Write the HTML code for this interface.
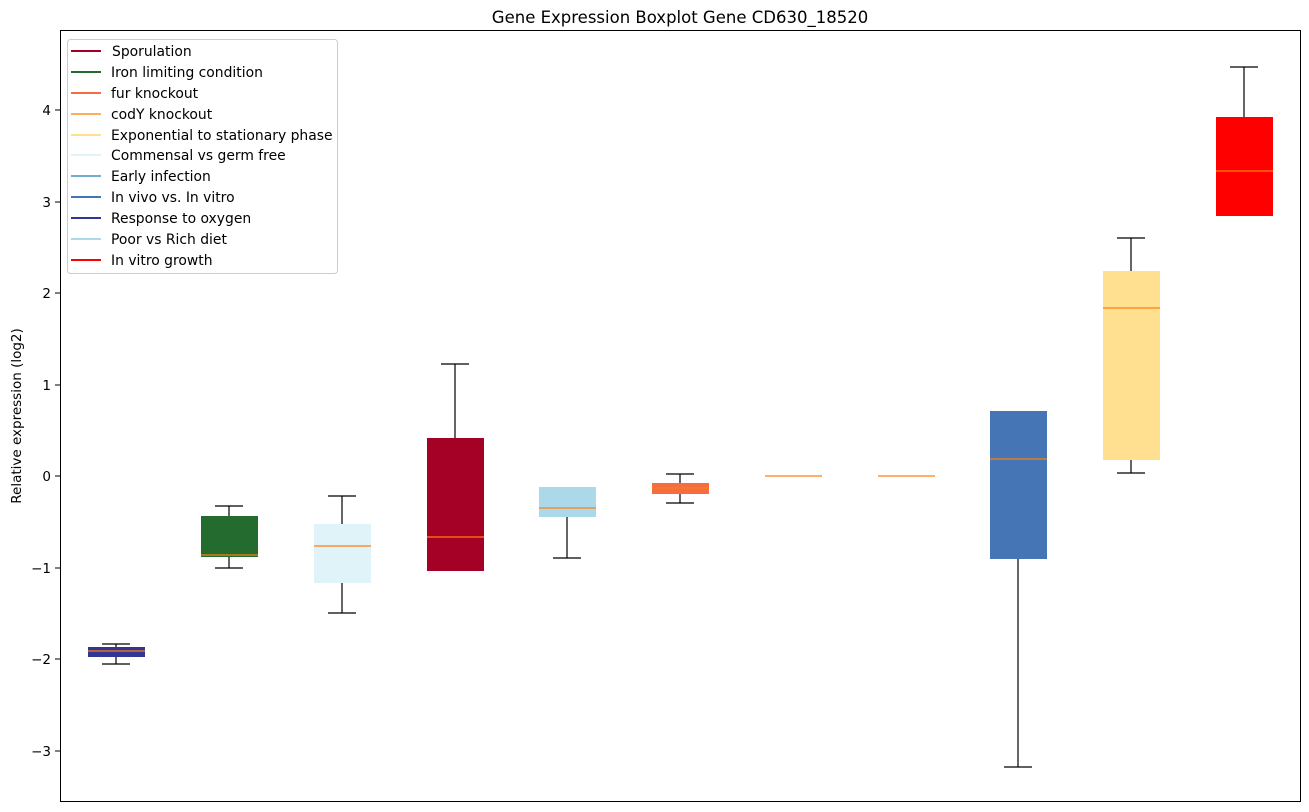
<!DOCTYPE html>
<html><head><meta charset="utf-8"><style>body{margin:0;background:#fff}svg{display:block}text{font-family:"DejaVu Sans","Liberation Sans",sans-serif}</style></head><body>
<svg width="1309" height="812" xmlns="http://www.w3.org/2000/svg">
<text x="680" y="23" font-size="16.5" text-anchor="middle">Gene Expression Boxplot Gene CD630_18520</text>
<g stroke="#000" stroke-width="1">
<line x1="55" y1="110" x2="60" y2="110"/><line x1="55" y1="202" x2="60" y2="202"/><line x1="55" y1="293" x2="60" y2="293"/><line x1="55" y1="385" x2="60" y2="385"/><line x1="55" y1="476" x2="60" y2="476"/><line x1="55" y1="568" x2="60" y2="568"/><line x1="55" y1="659" x2="60" y2="659"/><line x1="55" y1="751" x2="60" y2="751"/>
</g>
<g font-size="13.5" text-anchor="end">
<text x="51" y="115">4</text><text x="51" y="207">3</text><text x="51" y="298">2</text><text x="51" y="390">1</text><text x="51" y="481">0</text><text x="51" y="573">−1</text><text x="51" y="664">−2</text><text x="51" y="756">−3</text>
</g>
<text transform="translate(21,416) rotate(-90)" font-size="13.5" text-anchor="middle">Relative expression (log2)</text>
<g stroke="#000" stroke-width="1.2" fill="none">
<line x1="116" y1="644" x2="116" y2="664"/><line x1="102" y1="644" x2="130" y2="644"/><line x1="102" y1="664" x2="130" y2="664"/>
<line x1="229" y1="506" x2="229" y2="568"/><line x1="215" y1="506" x2="243" y2="506"/><line x1="215" y1="568" x2="243" y2="568"/>
<line x1="342" y1="496" x2="342" y2="613"/><line x1="328" y1="496" x2="356" y2="496"/><line x1="328" y1="613" x2="356" y2="613"/>
<line x1="455" y1="364" x2="455" y2="571"/><line x1="441" y1="364" x2="469" y2="364"/>
<line x1="567" y1="487" x2="567" y2="558"/><line x1="553" y1="558" x2="581" y2="558"/>
<line x1="680" y1="474" x2="680" y2="503"/><line x1="666" y1="474" x2="694" y2="474"/><line x1="666" y1="503" x2="694" y2="503"/>
<line x1="1018" y1="411" x2="1018" y2="767"/><line x1="1004" y1="767" x2="1032" y2="767"/>
<line x1="1131" y1="238" x2="1131" y2="473"/><line x1="1117" y1="238" x2="1145" y2="238"/><line x1="1117" y1="473" x2="1145" y2="473"/>
<line x1="1244" y1="67" x2="1244" y2="216"/><line x1="1230" y1="67" x2="1258" y2="67"/>
</g>
<g>
<rect x="88" y="647" width="57" height="10" fill="#313695"/>
<rect x="201" y="516" width="57" height="41" fill="#236b2f"/>
<rect x="314" y="524" width="57" height="59" fill="#e0f3f8"/>
<rect x="427" y="438" width="57" height="133" fill="#a50026"/>
<rect x="539" y="487" width="57" height="30" fill="#abd9e9"/>
<rect x="652" y="483" width="57" height="11" fill="#f46d43"/>
<rect x="990" y="411" width="57" height="148" fill="#4575b4"/>
<rect x="1103" y="271" width="57" height="189" fill="#fee090"/>
<rect x="1216" y="117" width="57" height="99" fill="#ff0000"/>
</g>
<g stroke="#ff7f0e" stroke-width="1.2">
<line x1="88" y1="651" x2="145" y2="651"/><line x1="201" y1="555" x2="258" y2="555"/><line x1="314" y1="546" x2="371" y2="546"/><line x1="427" y1="537" x2="484" y2="537"/><line x1="539" y1="508" x2="596" y2="508"/><line x1="652" y1="488" x2="709" y2="488"/><line x1="765" y1="476" x2="822" y2="476"/><line x1="878" y1="476" x2="935" y2="476"/><line x1="990" y1="459" x2="1047" y2="459"/><line x1="1103" y1="308" x2="1160" y2="308"/><line x1="1216" y1="171" x2="1273" y2="171"/>
</g>
<rect x="60.5" y="30.5" width="1240" height="771" fill="none" stroke="#000"/>
<rect x="67.5" y="39.5" width="270" height="234" rx="3" fill="#fff" fill-opacity="0.8" stroke="#ccc"/>
<g stroke-width="2">
<line x1="71" y1="51" x2="101" y2="51" stroke="#a50026"/>
<line x1="71" y1="72" x2="101" y2="72" stroke="#236b2f"/>
<line x1="71" y1="93" x2="101" y2="93" stroke="#f46d43"/>
<line x1="71" y1="114" x2="101" y2="114" stroke="#fdae61"/>
<line x1="71" y1="135" x2="101" y2="135" stroke="#fee090"/>
<line x1="71" y1="155" x2="101" y2="155" stroke="#e0f3f8"/>
<line x1="71" y1="176" x2="101" y2="176" stroke="#74add1"/>
<line x1="71" y1="197" x2="101" y2="197" stroke="#4575b4"/>
<line x1="71" y1="218" x2="101" y2="218" stroke="#313695"/>
<line x1="71" y1="239" x2="101" y2="239" stroke="#abd9e9"/>
<line x1="71" y1="260" x2="101" y2="260" stroke="#ff0000"/>
</g>
<g font-size="13.9">
<text x="112" y="56">Sporulation</text>
<text x="111" y="77">Iron limiting condition</text>
<text x="111" y="98">fur knockout</text>
<text x="111" y="119">codY knockout</text>
<text x="111" y="140">Exponential to stationary phase</text>
<text x="111" y="160">Commensal vs germ free</text>
<text x="111" y="181">Early infection</text>
<text x="111" y="202">In vivo vs. In vitro</text>
<text x="111" y="223">Response to oxygen</text>
<text x="111" y="244">Poor vs Rich diet</text>
<text x="111" y="265">In vitro growth</text>
</g>
</svg>
</body></html>
